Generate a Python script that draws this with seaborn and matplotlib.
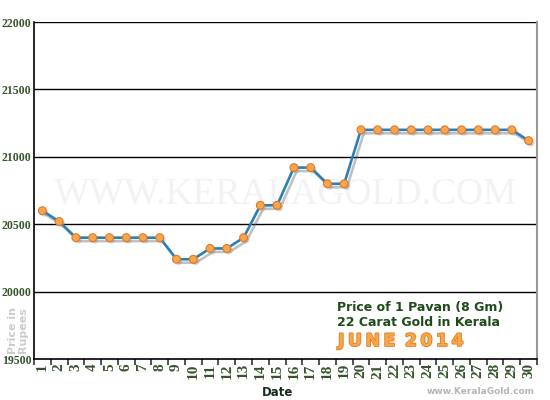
import matplotlib
matplotlib.use("Agg")
import matplotlib.pyplot as plt
import matplotlib.patheffects as pe
import seaborn as sns
import pandas as pd
import numpy as np

days = list(range(1, 31))
prices = [20600, 20520, 20400, 20400, 20400, 20400, 20400, 20400, 20240, 20240,
          20320, 20320, 20400, 20640, 20640, 20920, 20920, 20800, 20800, 21200,
          21200, 21200, 21200, 21200, 21200, 21200, 21200, 21200, 21200, 21120]
y_ticks = [19500, 20000, 20500, 21000, 21500, 22000]
tick_labels = [str(d) for d in days]

sns.set_theme(style="white")
plt.rcParams['font.family'] = ['DejaVu Sans']

df = pd.DataFrame({"Date": days, "Price": prices})

fig = plt.figure(figsize=(5.5, 4), dpi=100)
ax = fig.add_axes([34/550, 1-359/400, (537-34)/550, (359-22)/400])

green = "#34562a"

# watermark
ax.text(0.5, 0.49, "WWW.KERALAGOLD.COM", transform=ax.transAxes, ha="center", va="center",
        fontsize=27, family="Liberation Serif", color="#f2f2f2", zorder=0)

for y in y_ticks[1:]:
    ax.axhline(y, color="black", lw=1.0, zorder=1)

sns.lineplot(data=df, x="Date", y="Price", ax=ax, color="#2b7fb4", lw=1.9, zorder=3,
             path_effects=[pe.SimpleLineShadow(offset=(2, -2.5), shadow_color="#666666", alpha=0.4),
                           pe.Normal()])
sns.scatterplot(data=df, x="Date", y="Price", ax=ax, s=32, color="#f7a64a",
                edgecolor="#e0782a", linewidth=0.8, zorder=4,
                path_effects=[pe.SimplePatchShadow(offset=(1.5, -1.5), shadow_rgbFace="#888888", alpha=0.3),
                              pe.Normal()])

ax.set_xlim(0.55, 30.5)
ax.set_ylim(19500, 22000)
ax.set_yticks(y_ticks)
ax.set_yticklabels([str(v) for v in y_ticks], family="Liberation Serif", fontsize=8.5,
                   color=green, fontweight="bold")
ax.set_xticks(np.arange(0.5, 31, 1.0))
ax.set_xticklabels([])
ax.set_xticks(days, minor=True)
ax.set_xticklabels(tick_labels, minor=True, rotation=90, family="Liberation Serif",
                   fontsize=11, color=green, fontweight="bold")
ax.tick_params(axis="x", which="major", length=4, width=1.2, color="#333333", direction="out", bottom=True)
ax.tick_params(axis="x", which="minor", length=0, pad=3)
ax.tick_params(axis="y", length=0, pad=2)
ax.set_xlabel("")
ax.set_ylabel("")

for s in ["left", "bottom"]:
    ax.spines[s].set_color("black")
    ax.spines[s].set_linewidth(1.2)
ax.spines["top"].set_visible(False)
ax.spines["right"].set_color("#999999")
ax.spines["right"].set_linewidth(1.5)

fig.text(278/550, 1-392/400, "Date", ha="center", va="center", fontsize=8.5,
         fontweight="bold", color="#1a2a1a")
fig.text(18/550, 1-330/400, "Price in\nRupees", ha="center", va="center", rotation=90,
         fontsize=8, fontweight="bold", color="#cccccc", linespacing=1.0)
fig.text(535/550, 1-391/400, "www.KeralaGold.com", ha="right", va="center", fontsize=6.5,
         fontweight="bold", color="#b5b5b5")

fig.text(337/550, 1-307/400, "Price of 1 Pavan (8 Gm)", ha="left", va="center",
         fontsize=9, fontweight="bold", color="#1f4a1a")
fig.text(337/550, 1-322/400, "22 Carat Gold in Kerala", ha="left", va="center",
         fontsize=9, fontweight="bold", color="#1f4a1a")
fig.text(338/550, 1-341/400, "J\u2009U\u2009N\u2009E\u2009 2\u20090\u20091\u20094", ha="left", va="center",
         fontsize=12.5, fontweight="bold", color="#f7a64a",
         path_effects=[pe.withStroke(linewidth=1.2, foreground="#e07a20")])

fig.savefig("out.png", dpi=100, facecolor="white")
